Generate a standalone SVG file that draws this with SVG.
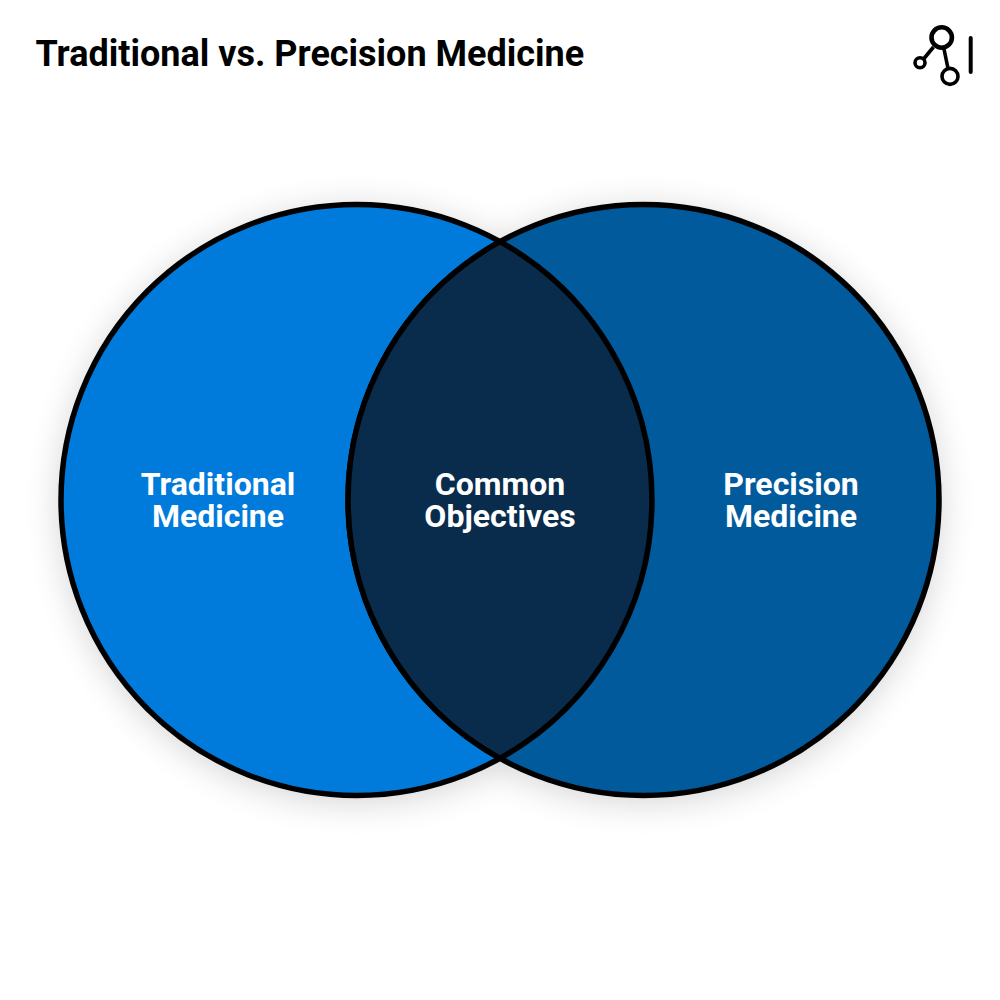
<svg xmlns="http://www.w3.org/2000/svg" width="1000" height="1000" viewBox="0 0 1000 1000">
<defs>
<filter id="soft" x="-20%" y="-20%" width="140%" height="140%"><feGaussianBlur stdDeviation="18"/></filter>
</defs>
<style>
.o{stroke:#000;stroke-width:5.5}
.t{font-family:Roboto,"Liberation Sans",sans-serif;font-weight:700;font-size:32px;fill:#fff;text-anchor:middle}
.i{fill:none;stroke:#000;stroke-width:3.6}
</style>
<rect width="1000" height="1000" fill="#fff"/>
<g id="shadow" filter="url(#soft)" opacity="0.18">
<circle cx="356.5" cy="505" r="296" fill="#000"/>
<circle cx="643.5" cy="505" r="296" fill="#000"/>
</g>
<text id="title" x="35.500" y="66" font-family="Roboto,'Liberation Sans',sans-serif" font-weight="700" font-size="36" fill="#000">Traditional vs. Precision Medicine</text>
<g id="logo">
<circle class="i" cx="941.700" cy="37.500" r="10.200" style="stroke-width:4.6"/>
<circle class="i" cx="920" cy="62.700" r="5"/>
<circle class="i" cx="950" cy="76.400" r="8"/>
<path class="i" d="M933.500 47L924 58.500M944 49L948 68.500"/>
<path d="M970.700 38V72" fill="none" stroke="#000" stroke-width="4" stroke-linecap="round"/>
</g>
<g id="traditional">
<circle class="o" cx="356.500" cy="500" r="295.500" fill="#007bdb"/>
<text class="t" x="218" y="495">Traditional</text>
<text class="t" x="218" y="527">Medicine</text>
</g>
<g id="precision">
<circle class="o" cx="643.500" cy="500" r="295.500" fill="#005a9c"/>
<text class="t" x="791" y="495">Precision</text>
<text class="t" x="791" y="527">Medicine</text>
</g>
<g id="common">
<path class="o" d="M500 241.700A295.500 295.500 0 0 1 500 758.300A295.500 295.500 0 0 1 500 241.700Z" fill="#0a2c4c"/>
<text class="t" x="500" y="495">Common</text>
<text class="t" x="500" y="527">Objectives</text>
</g>
<g id="connectors"/>
</svg>
